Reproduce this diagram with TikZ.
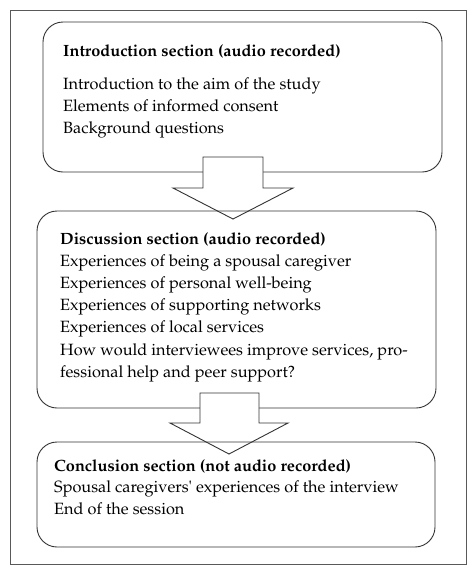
\documentclass[tikz,border=0pt]{standalone}
\usepackage[T1]{fontenc}
\usepackage{mathpazo}
\begin{document}
\begin{tikzpicture}[x=1pt,y=-1pt,
  frame/.style={draw=black!65,line width=0.9pt},
  box/.style={draw=black!80,line width=0.9pt,rounded corners=20pt,inner sep=0pt},
  blockarrow/.style={draw=black!80,line width=0.9pt,fill=white,line join=miter},
  txt/.style={anchor=base west,inner sep=0pt,font=\fontsize{16.3}{22.2}\selectfont},
  ttl/.style={txt,font=\fontsize{16.3}{22.2}\selectfont\bfseries}]
\useasboundingbox (0,0) rectangle (474,573);
\fill[white] (0,0) rectangle (474,573);
\draw[frame] (10,10) rectangle (466,564);
% box 1
\draw[box] (43,22) rectangle (442,172);
\node[ttl] (t1) at (63,56) {Introduction section (audio recorded)};
\node[txt] (a1) at (63,89.5) {Introduction to the aim of the study};
\node[txt] (a2) at (63,111.5) {Elements of informed consent};
\node[txt] (a3) at (63,133.5) {Background questions};
% arrow 1
\draw[blockarrow] (203,157) -- (263,157) -- (263,188) -- (293,188) -- (233,219) -- (173,188) -- (203,188) -- cycle;
% box 2
\draw[box] (37,211) rectangle (436,408);
\node[ttl] (t2) at (60,244) {Discussion section (audio recorded)};
\node[txt] (b1) at (60,266.2) {Experiences of being a spousal caregiver};
\node[txt] (b2) at (60,288.4) {Experiences of personal well-being};
\node[txt] (b3) at (60,310.6) {Experiences of supporting networks};
\node[txt] (b4) at (60,332.8) {Experiences of local services};
\node[txt] (b5) at (60,355.0) {How would interviewees improve services, pro-};
\node[txt] (b6) at (60,377.2) {fessional help and peer support?};
% arrow 2
\draw[blockarrow] (200,393) -- (259,393) -- (259,423) -- (288,423) -- (229,454) -- (170,423) -- (200,423) -- cycle;
% box 3
\draw[box] (37,442) rectangle (435,547);
\node[ttl] (t3) at (54,471) {Conclusion section (not audio recorded)};
\node[txt] (c1) at (54,492.5) {Spousal caregivers\textquotesingle\ experiences of the interview};
\node[txt] (c2) at (54,514.5) {End of the session};
\end{tikzpicture}
\end{document}
